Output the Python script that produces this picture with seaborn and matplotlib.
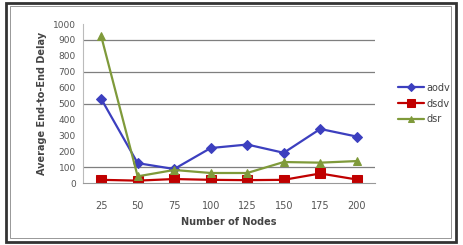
import numpy as np
import pandas as pd
import matplotlib
matplotlib.use("Agg")
import matplotlib.pyplot as plt
import seaborn as sns
from matplotlib.patches import Rectangle

# Data
nodes = ["25", "50", "75", "100", "125", "150", "175", "200"]
aodv = [530, 125, 88, 220, 242, 190, 340, 292]
dsdv = [20, 15, 25, 20, 18, 20, 60, 22]
dsr = [925, 42, 82, 63, 63, 132, 128, 138]

protocols = ["aodv", "dsdv", "dsr"]
colors = {"aodv": "#3c3fbf", "dsdv": "#c00000", "dsr": "#7f9a3a"}
markers = {"aodv": "D", "dsdv": "s", "dsr": "^"}
msizes = {"aodv": 5, "dsdv": 7, "dsr": 6}

df = pd.DataFrame({"Nodes": nodes * 3,
                   "pos": list(range(len(nodes))) * 3,
                   "Protocol": sum([[p] * len(nodes) for p in protocols], []),
                   "Delay": aodv + dsdv + dsr})

sns.set_style("white")
plt.rcParams['font.family'] = ['DejaVu Sans']

fig = plt.figure(figsize=(4.63, 2.45), dpi=100)
ax = fig.add_axes([0.179, 0.253, 0.631, 0.649])

for g in [100, 500, 700, 900]:
    ax.axhline(g, color="#7f7f7f", lw=0.9, zorder=0)

for p in protocols:
    sub = df[df["Protocol"] == p]
    sns.lineplot(data=sub, x="pos", y="Delay", ax=ax, color=colors[p],
                 marker=markers[p], markersize=msizes[p], markeredgecolor=colors[p],
                 lw=1.6, label=p)

ax.set_xlim(-0.5, len(nodes) - 0.5)
ax.set_ylim(0, 1000)
ax.set_yticks(range(0, 1001, 100))
ax.tick_params(axis="y", labelsize=6.5, colors="#555555", length=3, pad=2)
ax.set_xticks(range(len(nodes)))
ax.set_xticklabels(nodes)
ax.set_xticks(np.arange(-0.5, len(nodes), 1), minor=True)
ax.tick_params(axis="x", which="major", length=0, labelsize=7, colors="#555555", pad=13)
ax.tick_params(axis="x", which="minor", length=3, color="#bbbbbb", direction="out")
ax.tick_params(axis="y", color="#bbbbbb", direction="out")

for s in ["top", "right"]:
    ax.spines[s].set_visible(False)
ax.spines["left"].set_color("#bbbbbb")
ax.spines["bottom"].set_color("#999999")
ax.spines["left"].set_linewidth(0.8)

ax.set_xlabel("Number of Nodes", fontsize=7, fontweight="bold", color="#444444", labelpad=4)
ax.set_ylabel("Average End-to-End Delay", fontsize=7, fontweight="bold", color="#444444", labelpad=4)

leg = ax.legend(loc="center left", bbox_to_anchor=(1.05, 0.5), frameon=False,
                fontsize=7, handlelength=2.6, labelspacing=0.6, handletextpad=0.3,
                markerscale=0.8)
for t in leg.get_texts():
    t.set_color("#444444")

fig.patches.append(Rectangle((0.012, 0.012), 0.972, 0.975, transform=fig.transFigure,
                             fill=False, ec="#333333", lw=2.0))
fig.patches.append(Rectangle((0.022, 0.03), 0.952, 0.945, transform=fig.transFigure,
                             fill=False, ec="#888888", lw=0.6))

fig.savefig("out.png", dpi=100)
